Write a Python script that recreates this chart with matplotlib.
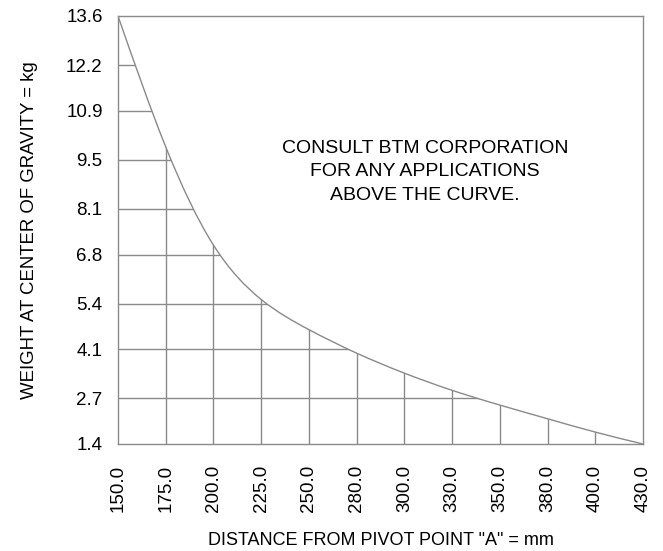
import matplotlib
matplotlib.use("Agg")
import matplotlib.pyplot as plt
import numpy as np
from matplotlib.path import Path
from matplotlib.patches import PathPatch

# Load-rating data: distance from pivot (mm) vs. max weight at centre of gravity (kg)
distance_labels = ["150.0", "175.0", "200.0", "225.0", "250.0", "280.0",
                   "300.0", "330.0", "350.0", "380.0", "400.0", "430.0"]
max_weight = [13.6, 9.87, 7.07, 5.52, 4.66, 3.99, 3.42, 2.93, 2.51, 2.12, 1.74, 1.4]
weight_ticks = [1.4, 2.7, 4.1, 5.4, 6.8, 8.1, 9.5, 10.9, 12.2, 13.6]
weight_tick_labels = ["1.4", "2.7", "4.1", "5.4", "6.8", "8.1", "9.5", "10.9", "12.2", "13.6"]

plt.rcParams["font.family"] = ["Liberation Sans", "DejaVu Sans"]

GRAY = "#8a8a8a"

fig = plt.figure(figsize=(6.63, 5.51), dpi=100)
ax = fig.add_axes([118 / 663, 1 - 444 / 551, (643 - 118) / 663, (444 - 16) / 551])

x = np.arange(len(distance_labels), dtype=float)
y = np.array(max_weight)
n = len(x)

# Natural cubic spline slopes at each point (tridiagonal solve, unit spacing)
A = np.zeros((n, n))
rhs = np.zeros(n)
A[0, 0], A[0, 1] = 2.0, 1.0
rhs[0] = 3.0 * (y[1] - y[0])
A[-1, -2], A[-1, -1] = 1.0, 2.0
rhs[-1] = 3.0 * (y[-1] - y[-2])
for i in range(1, n - 1):
    A[i, i - 1], A[i, i], A[i, i + 1] = 1.0, 4.0, 1.0
    rhs[i] = 3.0 * (y[i + 1] - y[i - 1])
slope = np.linalg.solve(A, rhs)

# Curve drawn as cubic Bezier segments through the data points
verts = [(x[0], y[0])]
codes = [Path.MOVETO]
for i in range(n - 1):
    verts += [(x[i] + 1 / 3, y[i] + slope[i] / 3),
              (x[i + 1] - 1 / 3, y[i + 1] - slope[i + 1] / 3),
              (x[i + 1], y[i + 1])]
    codes += [Path.CURVE4] * 3
curve = Path(verts, codes)

# Region under the curve, used to clip the grid
under_verts = verts + [(x[-1], 0.0), (x[0], 0.0), (x[0], y[0])]
under_codes = codes + [Path.LINETO, Path.LINETO, Path.CLOSEPOLY]
under = PathPatch(Path(under_verts, under_codes), facecolor="none", edgecolor="none")
ax.add_patch(under)

ax.add_patch(PathPatch(curve, facecolor="none", edgecolor=GRAY, lw=1.0, zorder=3))

ax.set_xlim(x[0], x[-1])
ax.set_ylim(weight_ticks[0], weight_ticks[-1])
ax.set_xticks(x)
ax.set_xticklabels(distance_labels, rotation=90, fontsize=13.5)
ax.set_yticks(weight_ticks)
ax.set_yticklabels(weight_tick_labels, fontsize=13.5)
ax.tick_params(axis="x", length=0, pad=15)
ax.tick_params(axis="y", length=0, pad=11)

for xi in x[1:-1]:
    ln, = ax.plot([xi, xi], [weight_ticks[0], weight_ticks[-1]], color=GRAY, lw=1.0)
    ln.set_clip_path(under)
for yi in weight_ticks[1:-1]:
    ln, = ax.plot([x[0], x[-1]], [yi, yi], color=GRAY, lw=1.0)
    ln.set_clip_path(under)

for s in ax.spines.values():
    s.set_color(GRAY)
    s.set_linewidth(1.0)

ax.text(0.585, 0.636, "CONSULT BTM CORPORATION\nFOR ANY APPLICATIONS\nABOVE THE CURVE.",
        transform=ax.transAxes, ha="center", va="center", fontsize=14, linespacing=1.52)

ax.set_xlabel('DISTANCE FROM PIVOT POINT "A" = mm', fontsize=13, labelpad=14)
ax.set_ylabel("WEIGHT AT CENTER OF GRAVITY = kg", fontsize=13.4, labelpad=20)

fig.savefig("out.png", dpi=100)
